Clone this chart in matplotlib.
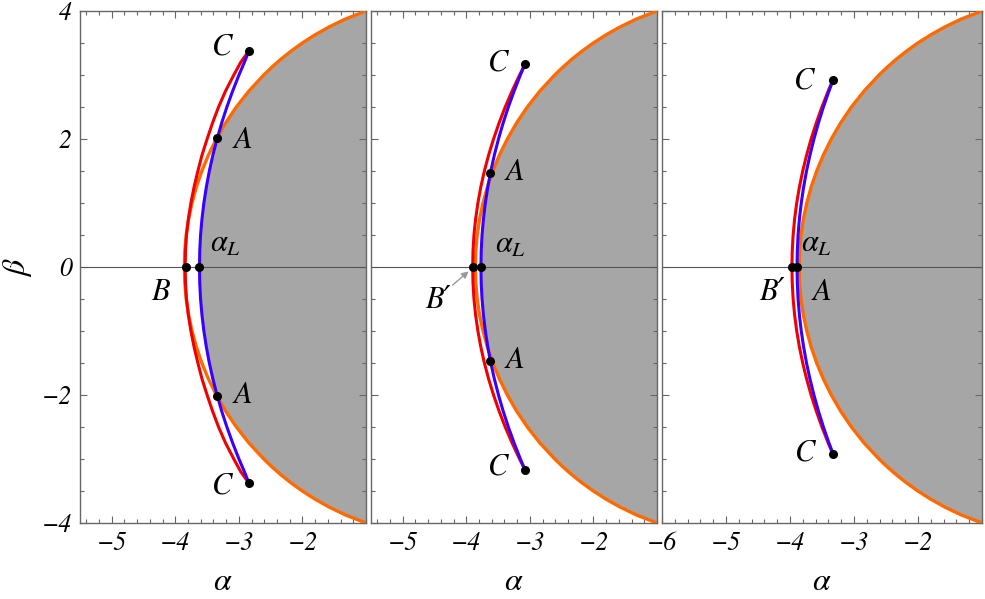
import numpy as np
import matplotlib.pyplot as plt
from matplotlib.ticker import FixedLocator

plt.rcParams['mathtext.fontset'] = 'stix'
plt.rcParams['font.family'] = ['STIXGeneral', 'DejaVu Serif']
plt.rcParams['font.style'] = 'italic'

# shadow edge (orange), upper half only -- mirrored below
shadow_beta = [0.0, 0.25, 0.5, 0.75, 1.0, 1.25, 1.5, 1.75, 2.0, 2.25, 2.5, 2.75,
               3.0, 3.125, 3.25, 3.375, 3.5, 3.625, 3.75, 3.875, 4.0]
shadow_alpha = [-3.858, -3.851, -3.829, -3.791, -3.738, -3.669, -3.583, -3.479,
                -3.355, -3.210, -3.040, -2.842, -2.609, -2.478, -2.335, -2.177,
                -2.002, -1.806, -1.583, -1.322, -1.000]

# panel 1
p1_beta = [0.0, 0.25, 0.5, 0.75, 1.0, 1.25, 1.5, 1.75, 2.0, 2.25, 2.5, 2.75, 3.0, 3.2, 3.38]
p1_blue = [-3.62, -3.616, -3.603, -3.581, -3.551, -3.512, -3.465, -3.409, -3.344,
           -3.271, -3.189, -3.098, -2.999, -2.913, -2.84]
p1_red = [-3.845, -3.84, -3.825, -3.795, -3.755, -3.705, -3.645, -3.58, -3.50,
          -3.415, -3.32, -3.21, -3.08, -2.97, -2.84]
# panel 2
p2_beta = [0.0, 0.25, 0.5, 0.75, 1.0, 1.25, 1.5, 1.75, 2.0, 2.25, 2.5, 2.75, 3.0, 3.17]
p2_blue = [-3.77, -3.766, -3.753, -3.731, -3.701, -3.662, -3.615, -3.559, -3.494,
           -3.421, -3.339, -3.248, -3.149, -3.077]
p2_red = [-3.90, -3.895, -3.88, -3.854, -3.818, -3.772, -3.716, -3.649, -3.572,
          -3.485, -3.388, -3.280, -3.162, -3.076]
# panel 3
p3_beta = [0.0, 0.25, 0.5, 0.75, 1.0, 1.25, 1.5, 1.75, 2.0, 2.25, 2.5, 2.75, 2.92]
p3_blue = [-3.89, -3.886, -3.874, -3.853, -3.824, -3.787, -3.742, -3.688, -3.626,
           -3.556, -3.478, -3.391, -3.327]
p3_red = [-3.97, -3.965, -3.951, -3.928, -3.895, -3.853, -3.801, -3.740, -3.67,
          -3.590, -3.501, -3.403, -3.331]

# marked points (alpha, beta)
p1_dots = [(-3.84, 0.0), (-3.62, 0.0), (-3.34, 2.01), (-3.34, -2.01),
           (-2.84, 3.38), (-2.84, -3.38)]
p2_dots = [(-3.90, 0.0), (-3.77, 0.0), (-3.62, 1.47), (-3.62, -1.47),
           (-3.08, 3.17), (-3.08, -3.17)]
p3_dots = [(-3.97, 0.0), (-3.89, 0.0), (-3.33, 2.92), (-3.33, -2.92)]

p1_labels = [('C', -3.26, 3.44), ('A', -2.93, 1.98), (r'$\alpha_L$', -3.22, 0.36),
             ('B', -4.23, -0.39), ('A', -2.93, -2.0), ('C', -3.26, -3.41)]
p2_labels = [('C', -3.50, 3.20), ('A', -3.23, 1.48), (r'$\alpha_L$', -3.31, 0.35),
             ('B\u2032', -4.44, -0.52), ('A', -3.23, -1.45), ('C', -3.50, -3.12)]
p3_labels = [('C', -3.78, 2.92), (r'$\alpha_L$', -3.58, 0.36), ('B\u2032', -4.28, -0.39),
             ('A', -3.50, -0.39), ('C', -3.77, -2.90)]

x_ticks_short = [-5, -4, -3, -2]
x_ticks_long = [-6, -5, -4, -3, -2]
y_ticks = [-4, -2, 0, 2, 4]

ORANGE = '#ff6a00'
RED = '#f00000'
BLUE = '#3a00ff'
GRAY = '#a6a6a6'
FRAME = '#666666'
TICKFONT = dict(family='STIXGeneral', style='italic', size=18.5)


def num(v):
    return ('\u2212%d' % -v) if v < 0 else '%d' % v


def mirror(b, a):
    b = np.asarray(b)
    a = np.asarray(a)
    return np.concatenate([-b[::-1], b[1:]]), np.concatenate([a[::-1], a[1:]])


def draw_panel(ax, xmin, beta, blue, red, dots, labels, xticks, ylabels):
    xmax = -1.0
    # shaded shadow, cut back to the blue curve where that lies inside
    yy = np.linspace(-4, 4, 1601)
    ox = np.interp(np.abs(yy), shadow_beta, shadow_alpha)
    bx = np.interp(np.abs(yy), beta, blue, right=-np.inf)
    ax.fill_betweenx(yy, np.maximum(ox, bx), xmax, color=GRAY, lw=0, zorder=1)

    ax.axhline(0, color='#555555', lw=0.8, zorder=2)

    sb, sa = mirror(shadow_beta, shadow_alpha)
    ax.plot(sa, sb, color=ORANGE, lw=2.4, zorder=3)
    rb, ra = mirror(beta, red)
    ax.plot(ra, rb, color=RED, lw=2.2, zorder=4)
    bb, ba = mirror(beta, blue)
    ax.plot(ba, bb, color=BLUE, lw=2.2, zorder=5)

    dx, dy = zip(*dots)
    ax.plot(dx, dy, 'o', color='k', ms=5.5, zorder=6)
    for txt, x, y in labels:
        ax.text(x, y, txt, fontsize=22, ha='center', va='center', zorder=7)

    ax.set_xlim(xmin, xmax)
    ax.set_ylim(-4, 4)
    ax.set_xticks(xticks, labels=[num(t) for t in xticks], fontdict=TICKFONT)
    if ylabels:
        ax.set_yticks(y_ticks, labels=[num(t) for t in y_ticks], fontdict=TICKFONT)
    else:
        ax.set_yticks(y_ticks, labels=[])
    ax.xaxis.set_minor_locator(FixedLocator(np.arange(-6, -0.99, 0.2)))
    ax.yaxis.set_minor_locator(FixedLocator(np.arange(-4, 4.01, 0.5)))
    ax.tick_params(which='both', direction='in', top=True, right=True,
                   color=FRAME, pad=6)
    ax.tick_params(which='major', length=5, width=0.8)
    ax.tick_params(which='minor', length=3, width=0.8)
    for sp in ax.spines.values():
        sp.set_color(FRAME)
        sp.set_linewidth(1.0)
    ax.set_xlabel(r'$\alpha$', fontsize=23, labelpad=9)


fig = plt.figure(figsize=(9.85, 5.99), dpi=100)
H = 512 / 599
B = 1 - 523 / 599
ax1 = fig.add_axes([80 / 985, B, 286 / 985, H])
ax2 = fig.add_axes([371 / 985, B, 286 / 985, H])
ax3 = fig.add_axes([662 / 985, B, 320 / 985, H])

draw_panel(ax1, -5.5, p1_beta, p1_blue, p1_red, p1_dots, p1_labels, x_ticks_short, True)
draw_panel(ax2, -5.5, p2_beta, p2_blue, p2_red, p2_dots, p2_labels, x_ticks_short, False)
draw_panel(ax3, -6.0, p3_beta, p3_blue, p3_red, p3_dots, p3_labels, x_ticks_long, False)

ax1.set_ylabel(r'$\beta$', fontsize=23, labelpad=5)

# arrow pointing at B' in the middle panel
ax2.annotate('', xy=(-3.93, -0.04), xytext=(-4.25, -0.31),
             arrowprops=dict(arrowstyle='-|>', color='#999999', lw=1,
                             mutation_scale=10), zorder=7)

fig.savefig('out.png', dpi=100)
